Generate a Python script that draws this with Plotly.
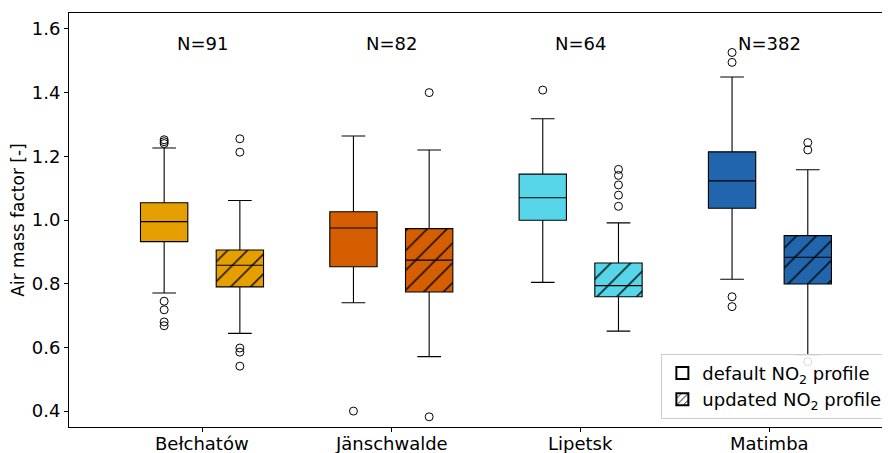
import plotly.graph_objects as go

categories = ["Bełchatów", "Jänschwalde", "Lipetsk", "Matimba"]
counts = [91, 82, 64, 382]
colors = ["#E69F00", "#D55E00", "#56D6E8", "#2166AC"]

# default NO2 profile stats
def_q1 = [0.932, 0.853, 0.999, 1.037]
def_med = [0.995, 0.975, 1.070, 1.123]
def_q3 = [1.054, 1.026, 1.144, 1.214]
def_lo = [0.771, 0.740, 0.804, 0.814]
def_hi = [1.226, 1.264, 1.318, 1.449]
def_out = [
    [1.252, 1.246, 1.240, 0.745, 0.718, 0.680, 0.668],
    [0.400],
    [1.408],
    [1.526, 1.495, 0.759, 0.728],
]

# updated NO2 profile stats
upd_q1 = [0.790, 0.774, 0.759, 0.799]
upd_med = [0.858, 0.874, 0.794, 0.883]
upd_q3 = [0.906, 0.973, 0.865, 0.951]
upd_lo = [0.644, 0.571, 0.651, 0.576]
upd_hi = [1.061, 1.220, 0.991, 1.158]
upd_out = [
    [1.255, 1.213, 0.598, 0.585, 0.541],
    [1.400, 0.382],
    [1.159, 1.140, 1.110, 1.078, 1.043],
    [1.243, 1.220, 0.555],
]

offset = 0.2
bw = 0.25
n = len(categories)
x_def = [i - offset for i in range(n)]
x_upd = [i + offset for i in range(n)]

fig = go.Figure()

for i in range(n):
    fig.add_trace(go.Bar(
        x=[x_def[i]], base=[def_q1[i]], y=[def_q3[i] - def_q1[i]],
        width=bw, marker=dict(color=colors[i], line=dict(width=0)),
        showlegend=False, hoverinfo="skip"))
    fig.add_trace(go.Bar(
        x=[x_upd[i]], base=[upd_q1[i]], y=[upd_q3[i] - upd_q1[i]],
        width=bw, marker=dict(color=colors[i], line=dict(width=0),
                              pattern=dict(shape="/", fgcolor="black", bgcolor=colors[i],
                                           size=14, solidity=0.1, fillmode="replace")),
        showlegend=False, hoverinfo="skip"))

for xs, q1, med, q3, lo, hi in [(x_def, def_q1, def_med, def_q3, def_lo, def_hi),
                                (x_upd, upd_q1, upd_med, upd_q3, upd_lo, upd_hi)]:
    fig.add_trace(go.Box(
        x=xs, q1=q1, median=med, q3=q3, lowerfence=lo, upperfence=hi,
        width=bw, whiskerwidth=0.5, fillcolor="rgba(0,0,0,0)",
        line=dict(color="black", width=1.1), boxpoints=False,
        showlegend=False, hoverinfo="skip"))

ox, oy = [], []
for i in range(n):
    for v in def_out[i]:
        ox.append(x_def[i]); oy.append(v)
    for v in upd_out[i]:
        ox.append(x_upd[i]); oy.append(v)
fig.add_trace(go.Scatter(
    x=ox, y=oy, mode="markers",
    marker=dict(symbol="circle-open", color="black", size=8, line=dict(width=1)),
    showlegend=False, hoverinfo="skip"))

fig.add_trace(go.Bar(x=[None], y=[None], name="default NO<sub>2</sub> profile",
                     marker=dict(color="white", line=dict(color="black", width=1))))
fig.add_trace(go.Bar(x=[None], y=[None], name="updated NO<sub>2</sub> profile",
                     marker=dict(color="white", line=dict(color="black", width=1),
                                 pattern=dict(shape="/", fgcolor="black", bgcolor="white",
                                              size=6, solidity=0.2, fillmode="replace"))))

for i in range(n):
    fig.add_annotation(x=i, y=1.553, text=f"N={counts[i]}", showarrow=False,
                       font=dict(size=18, color="black"), yanchor="middle")
    fig.add_annotation(x=i, xref="x", y=0, yref="paper", yanchor="top", yshift=-4,
                       text=categories[i], showarrow=False,
                       font=dict(size=18, color="black"))

fig.update_layout(
    width=890, height=453,
    margin=dict(l=61, r=9, t=5, b=34, autoexpand=False),
    plot_bgcolor="white", paper_bgcolor="white",
    font=dict(family="DejaVu Sans", size=18, color="black"),
    barmode="overlay",
    legend=dict(x=0.998, y=0.02, xanchor="right", yanchor="bottom",
                bgcolor="rgba(255,255,255,0.85)", bordercolor="#cccccc", borderwidth=1,
                font=dict(size=18), tracegroupgap=0, itemsizing="constant"),
    xaxis=dict(range=[-0.7026, 3.629], tickmode="array",
               tickvals=list(range(n)), showticklabels=False,
               showline=True, mirror=True, linecolor="black", linewidth=1,
               ticks="outside", ticklen=4, tickcolor="black", showgrid=False,
               zeroline=False, automargin=False),
    yaxis=dict(range=[0.35, 1.65], tickmode="array",
               tickvals=[0.4, 0.6, 0.8, 1.0, 1.2, 1.4, 1.6],
               ticktext=["0.4", "0.6", "0.8", "1.0", "1.2", "1.4", "1.6"],
               title=dict(text="Air mass factor [-]", standoff=10, font=dict(size=17)),
               showline=True, mirror=True, linecolor="black", linewidth=1,
               ticks="outside", ticklen=4, tickcolor="black", showgrid=False,
               zeroline=False, automargin=False),
)

fig.write_html("out.html")
